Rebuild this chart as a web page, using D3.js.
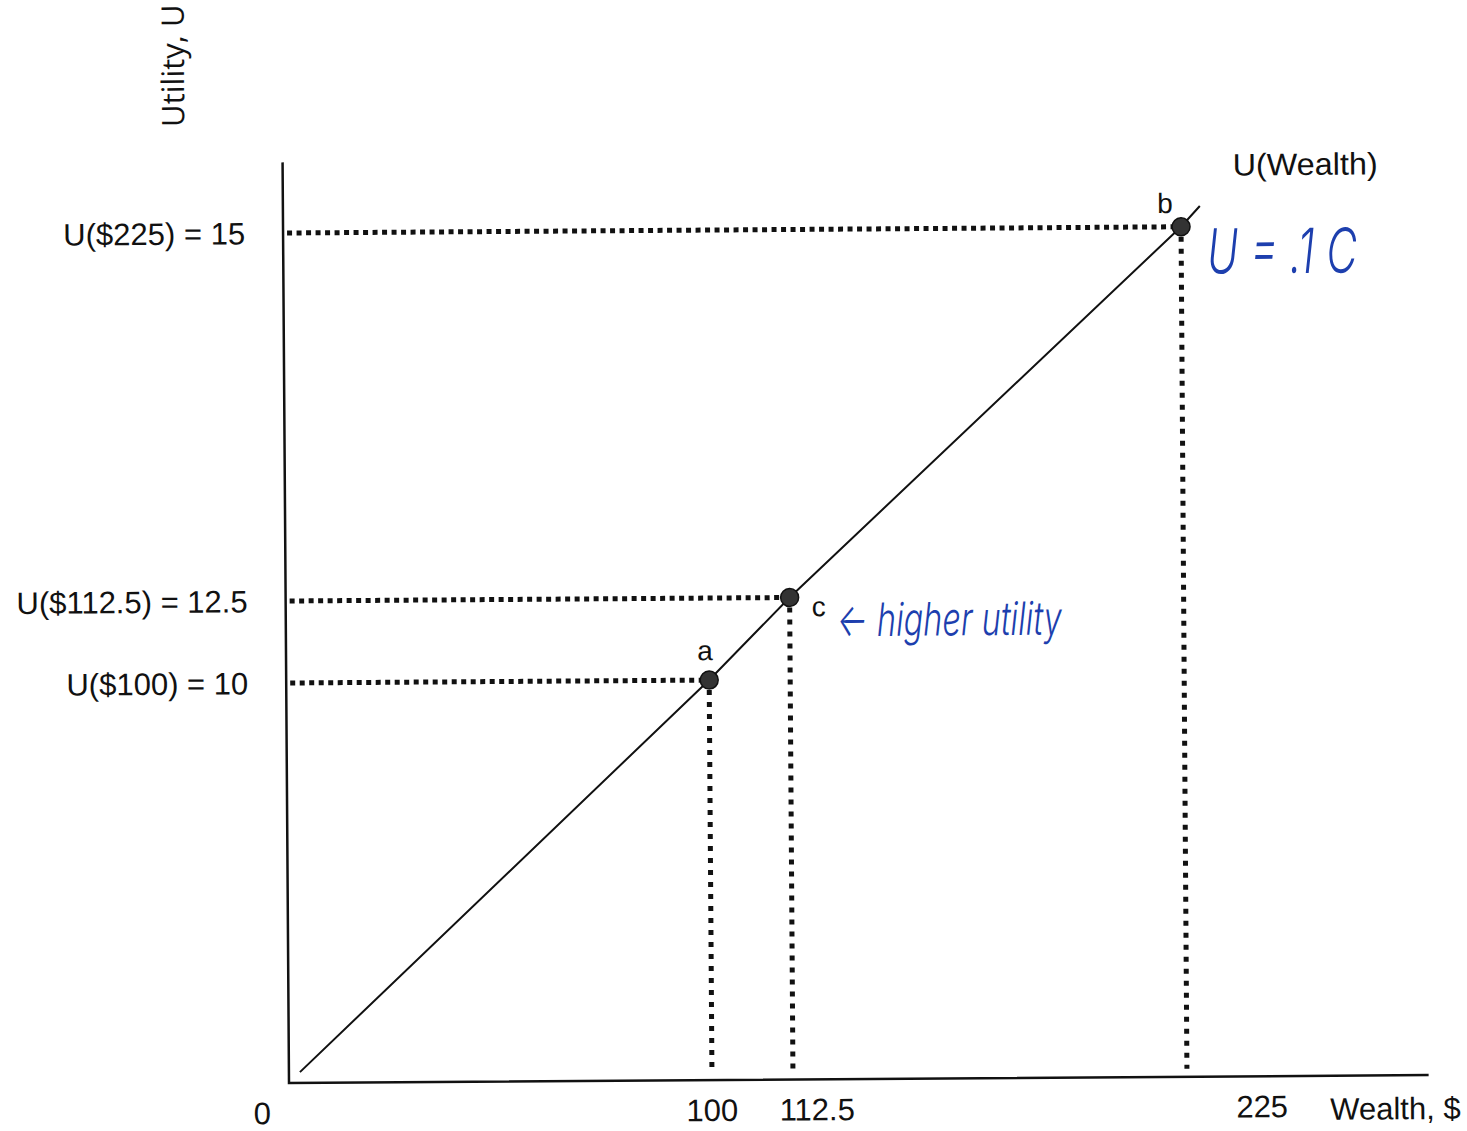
<!DOCTYPE html>
<meta charset="utf-8">
<style>
body { margin: 0; background: #fff; }
text { font-family: "Liberation Sans", Arial, sans-serif; fill: #111; }
.hand { font-family: Inter, "DejaVu Sans", sans-serif; font-weight: 300; font-style: italic; fill: #1d3fae; }
</style>
<svg width="1467" height="1131"></svg>
<script src="https://cdn.jsdelivr.net/npm/d3@7/dist/d3.min.js"></script>
<script>

// chart values
var wealthTicks = [0, 100, 112.5, 225];
var wealthTickLabels = ["0", "100", "112.5", "225"];
var utilityTicks = [10, 12.5, 15];
var utilityTickLabels = ["U($100) = 10", "U($112.5) = 12.5", "U($225) = 15"];
var pointNames = ["a", "c", "b"];
var pointWealth = [100, 112.5, 225];
var pointUtility = [10, 12.5, 15];
var lineWealth = [2.6, 100, 112.5, 225, 230.4];
var lineUtility = [0.27, 10, 12.5, 15, 15.14];

var svg = d3.select("svg");

// schematic (not to scale) axes -> piecewise linear scales
var x = d3.scaleLinear().domain([0, 100, 112.5, 225]).range([289, 712, 793, 1187]);
var y = d3.scaleLinear().domain([0, 10, 12.5, 15]).range([1083, 683, 601, 233]);
var xMax = 294, yMax = 15.48;

// the scanned page sits slightly tilted
var g = svg.append("g").attr("transform", "rotate(-0.4," + x(0) + "," + y(0) + ")");

// axes
g.append("path")
    .attr("d", "M" + x(0) + "," + y(yMax) + "V" + y(0) + "H" + x(xMax))
    .attr("fill", "none")
    .attr("stroke", "#111")
    .attr("stroke-width", 2.5);

// guide lines
var pts = pointWealth.map(function(w, i) { return {name: pointNames[i], w: w, u: pointUtility[i]}; });

g.selectAll(".hguide").data(pts).enter().append("line")
    .attr("x1", x(0) + 4).attr("x2", function(d) { return x(d.w) - 6; })
    .attr("y1", function(d) { return y(d.u); }).attr("y2", function(d) { return y(d.u); })
    .attr("stroke", "#111").attr("stroke-width", 5).attr("stroke-dasharray", "5 4.5");

g.selectAll(".vguide").data(pts).enter().append("line")
    .attr("x1", function(d) { return x(d.w); }).attr("x2", function(d) { return x(d.w); })
    .attr("y1", function(d) { return y(d.u) + 10; }).attr("y2", y(0) - 8)
    .attr("stroke", "#111").attr("stroke-width", 5).attr("stroke-dasharray", "5 7");

// utility line
var line = d3.line().x(function(d) { return x(d[0]); }).y(function(d) { return y(d[1]); });
g.append("path")
    .datum(d3.zip(lineWealth, lineUtility))
    .attr("d", line)
    .attr("fill", "none")
    .attr("stroke", "#111")
    .attr("stroke-width", 2);

// points
g.selectAll(".pt").data(pts).enter().append("circle")
    .attr("cx", function(d) { return x(d.w); })
    .attr("cy", function(d) { return y(d.u); })
    .attr("r", 9)
    .attr("fill", "#333")
    .attr("stroke", "#111")
    .attr("stroke-width", 1.5);

var nameOffset = {a: [-4, -20], c: [29, 19], b: [-16, -14]};
g.selectAll(".ptname").data(pts).enter().append("text")
    .attr("x", function(d) { return x(d.w) + nameOffset[d.name][0]; })
    .attr("y", function(d) { return y(d.u) + nameOffset[d.name][1]; })
    .attr("text-anchor", "middle")
    .attr("font-size", 28)
    .text(function(d) { return d.name; });

// tick labels
g.selectAll(".ylab").data(utilityTicks).enter().append("text")
    .attr("x", 251)
    .attr("y", function(d) { return y(d) + 11; })
    .attr("text-anchor", "end")
    .attr("font-size", 31)
    .text(function(d, i) { return utilityTickLabels[i]; });

var xNudge = [-27, 0, 24, 75];
g.selectAll(".xlab").data(wealthTicks).enter().append("text")
    .attr("x", function(d, i) { return x(d) + xNudge[i]; })
    .attr("y", 1124)
    .attr("text-anchor", "middle")
    .attr("font-size", 31)
    .text(function(d, i) { return wealthTickLabels[i]; });

g.append("text")
    .attr("x", 1330).attr("y", 1127)
    .attr("font-size", 31)
    .text("Wealth, $");

g.append("text")
    .attr("transform", "translate(191,65) rotate(-90)")
    .attr("text-anchor", "middle")
    .style("font-family", "'Open Sans', sans-serif")
    .attr("font-size", 31)
    .text("Utility, U");

g.append("text")
    .attr("x", 1239).attr("y", 182)
    .attr("font-size", 31)
    .attr("textLength", 145).attr("lengthAdjust", "spacingAndGlyphs")
    .text("U(Wealth)");

// handwritten notes
g.append("text").attr("class", "hand")
    .attr("x", 1213).attr("y", 280)
    .attr("font-size", 62)
    .attr("textLength", 150).attr("lengthAdjust", "spacingAndGlyphs")
    .text("U = .1 C");

g.append("text").attr("class", "hand")
    .attr("x", 840).attr("y", 640)
    .attr("font-size", 46)
    .attr("textLength", 225).attr("lengthAdjust", "spacingAndGlyphs")
    .text("← higher utility");

</script>
